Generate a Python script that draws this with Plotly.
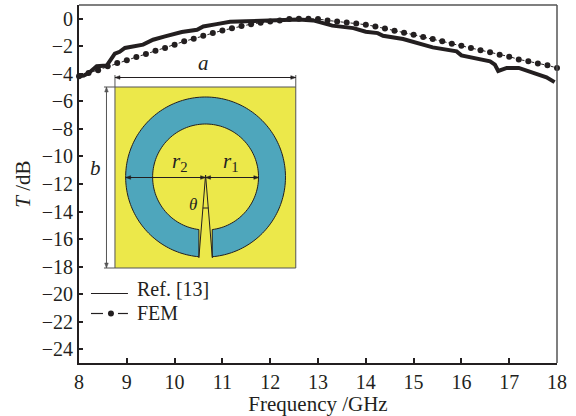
import numpy as np
import plotly.graph_objects as go

ref_freq = [8, 8.1, 8.2, 8.37, 8.58, 8.68, 8.75, 8.85, 8.96, 9.34, 9.55, 9.8, 10.15, 10.47, 10.6, 10.88, 11.16, 11.5,
            11.93, 12.6, 12.9, 13.3, 13.74, 14.0, 14.25, 14.36, 14.78, 15.4, 15.9, 16.0, 16.6, 16.7, 16.77,
            16.95, 17.2, 17.57, 17.78, 17.95]
ref_db = [-4.18, -4.12, -3.95, -3.45, -3.4, -2.95, -2.54, -2.4, -2.12, -1.88, -1.52, -1.28, -0.96, -0.8, -0.56, -0.39, -0.22, -0.18,
          -0.12, -0.06, -0.12, -0.5, -0.68, -0.94, -1.04, -1.23, -1.47, -2.08, -2.37, -2.66, -3.09, -3.33, -3.79,
          -3.57, -3.57, -3.99, -4.25, -4.6]
fem_freq = [8 + 0.2 * k for k in range(51)]
fem_db = [-4.18, -3.94, -3.74, -3.45, -3.21, -3.02, -2.78, -2.56, -2.32, -2.13, -1.88, -1.64, -1.45, -1.23, -1.04,
          -0.85, -0.68, -0.53, -0.39, -0.29, -0.19, -0.12, -0.02, 0, 0, -0.02, -0.12, -0.19, -0.27, -0.34, -0.43,
          -0.56, -0.70, -0.87, -1.01, -1.16, -1.33, -1.47, -1.64, -1.81, -1.96, -2.13, -2.29, -2.44, -2.61, -2.75,
          -2.95, -3.09, -3.24, -3.38, -3.57]
x_ticks = list(range(8, 19))
y_ticks = list(range(0, -25, -2))

W, H = 576, 416
L, R, T, B = 79, 557.5, 5, 363
SERIF = "Liberation Serif"
INK = "#231f20"
GREY = "#555555"


def px(x):
    return (x - L) / (R - L)


def py(y):
    return (B - y) / (B - T)


def poly(points):
    return "M" + "L".join(f"{px(a):.5f},{py(b):.5f}" for a, b in points) + "Z"


def line(x0, y0, x1, y1, color=INK, width=1.0, dash=None):
    return dict(type="line", xref="paper", yref="paper", x0=px(x0), y0=py(y0), x1=px(x1), y1=py(y1),
                line=dict(color=color, width=width, dash=dash or "solid"), layer="above")


def label(x, y, text, size=18, anchor="center"):
    return dict(xref="paper", yref="paper", x=px(x), y=py(y), text=text, showarrow=False, xanchor=anchor,
                yanchor="middle", font=dict(family=SERIF, size=size, color=INK))


def head(x, y, dx, dy, color):
    # small solid arrowhead whose tip is at (x, y), pointing along (dx, dy)
    n = 5.0
    w = 1.8
    pts = [(x, y), (x - dx * n - dy * w, y - dy * n + dx * w), (x - dx * n + dy * w, y - dy * n - dx * w)]
    return dict(type="path", xref="paper", yref="paper", path=poly(pts), fillcolor=color,
                line=dict(color=color, width=0.5), layer="above")


def double_arrow(x0, y0, x1, y1, color=INK):
    d = np.hypot(x1 - x0, y1 - y0)
    dx, dy = (x1 - x0) / d, (y1 - y0) / d
    return [line(x0, y0, x1, y1, color), head(x1, y1, dx, dy, color), head(x0, y0, -dx, -dy, color)]


cx, cy, r_out, r_in = 205.7, 177.0, 80.0, 53.0
gap = 6.7
a_out = np.arcsin(gap / r_out)
a_in = np.arcsin(gap / r_in)
th_o = np.linspace(a_out, 2 * np.pi - a_out, 200)
th_i = np.linspace(2 * np.pi - a_in, a_in, 140)
ring = [(cx + r_out * np.sin(t), cy + r_out * np.cos(t)) for t in th_o] + \
       [(cx + r_in * np.sin(t), cy + r_in * np.cos(t)) for t in th_i]

shapes = [
    dict(type="rect", xref="paper", yref="paper", x0=px(115), x1=px(296), y0=py(268), y1=py(87),
         fillcolor="#ece84a", line=dict(color=GREY, width=1), layer="above"),
    dict(type="path", xref="paper", yref="paper", path=poly(ring), fillcolor="#4ea6bc",
         line=dict(color=INK, width=1), layer="above"),
    line(205.7, 175, 199, 258), line(205.7, 175, 212.5, 258),
    line(115, 75, 115, 87, GREY), line(296, 75, 296, 87, GREY),
    line(104, 87, 115, 87, GREY), line(104, 268, 115, 268, GREY),
    line(203.0, 208, 208.6, 208),
    line(L, T, R, T, GREY, 1.5), line(R, T, R, B, GREY, 1.5),
    line(91, 293.5, 128, 293.5, INK, 1.2),
    line(91, 313.5, 103, 313.5, INK, 1.2), line(118, 313.5, 128, 313.5, INK, 1.2),
    dict(type="circle", xref="paper", yref="paper", x0=px(108), x1=px(114), y0=py(316.5), y1=py(310.5),
         fillcolor=INK, line=dict(color=INK, width=0), layer="above"),
]
shapes += double_arrow(115, 77.5, 296, 77.5)
shapes += double_arrow(106.5, 87, 106.5, 268, GREY)
shapes += double_arrow(125.7, 177.5, 205.7, 177.5)
shapes += double_arrow(205.7, 177.5, 259, 177.5)

annotations = [
    label(204, 63, "<i>a</i>", 21),
    label(96, 168, "<i>b</i>", 21),
    label(180, 162, "<i>r</i><sub>2</sub>", 21),
    label(231, 162, "<i>r</i><sub>1</sub>", 21),
    label(193, 204, "<i>θ</i>", 17),
    label(135, 289, "Ref. [13]", 20, "left"),
    label(135, 313, "FEM", 20, "left"),
]

fig = go.Figure()
fig.add_trace(go.Scatter(x=ref_freq, y=ref_db, mode="lines", name="Ref. [13]", cliponaxis=False,
                         line=dict(color=INK, width=4, shape="linear"), showlegend=False))
fig.add_trace(go.Scatter(x=fem_freq, y=fem_db, mode="lines+markers", name="FEM", cliponaxis=False,
                         line=dict(color=INK, width=1, dash="3px,2px"),
                         marker=dict(color=INK, size=6), showlegend=False))

fig.update_layout(
    width=W, height=H, autosize=False, margin=dict(l=L, r=W - R, t=T, b=H - B),
    paper_bgcolor="white", plot_bgcolor="white",
    font=dict(family=SERIF, size=20, color=INK),
    shapes=shapes, annotations=annotations,
    xaxis=dict(range=[8, 18], tickvals=x_ticks, ticks="inside", ticklen=5, tickwidth=1.5, tickcolor=INK,
               showgrid=False, zeroline=False, showline=True, linecolor=INK, linewidth=2,
               title=dict(text="Frequency /GHz", standoff=3, font=dict(size=21)),
               tickfont=dict(size=20)),
    yaxis=dict(range=[-25, 1], tickvals=y_ticks, ticks="inside", ticklen=4, tickwidth=1.5, tickcolor=INK,
               showgrid=False, zeroline=False, showline=True, linecolor=INK, linewidth=2,
               title=dict(text="<i>T</i> /dB", standoff=5, font=dict(size=21)),
               tickfont=dict(size=20)),
)
fig.write_html("out.html", config={"displayModeBar": False},
               post_script="document.body.style.margin='0';document.documentElement.style.overflow='hidden';")
